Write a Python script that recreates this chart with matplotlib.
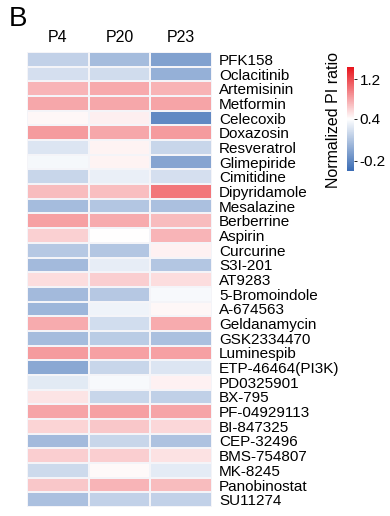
import numpy as np
import matplotlib
matplotlib.use("Agg")
import matplotlib.pyplot as plt
from matplotlib.colors import LinearSegmentedColormap, TwoSlopeNorm

plt.rcParams['font.family'] = ['Liberation Sans', 'DejaVu Sans']

# Data
columns = ['P4', 'P20', 'P23']
drugs = ['PFK158', 'Oclacitinib', 'Artemisinin', 'Metformin', 'Celecoxib',
         'Doxazosin', 'Resveratrol', 'Glimepiride', 'Cimitidine', 'Dipyridamole',
         'Mesalazine', 'Berberrine', 'Aspirin', 'Curcurine', 'S3I-201',
         'AT9283', '5-Bromoindole', 'A-674563', 'Geldanamycin', 'GSK2334470',
         'Luminespib', 'ETP-46464(PI3K)', 'PD0325901', 'BX-795', 'PF-04929113',
         'BI-847325', 'CEP-32496', 'BMS-754807', 'MK-8245', 'Panobinostat',
         'SU11274']
p4 = [0.17, 0.24, 0.73, 0.79, 0.44, 0.85, 0.27, 0.36, 0.19, 0.70,
      0.06, 0.82, 0.61, 0.12, 0.05, 0.55, 0.05, 0.03, 0.77, 0.06,
      0.85, -0.04, 0.29, 0.52, 0.81, 0.59, 0.05, 0.62, 0.21, 0.65, 0.08]
p20 = [0.06, 0.22, 0.78, 0.79, 0.47, 0.79, 0.45, 0.45, 0.32, 0.69,
       0.11, 0.77, 0.40, 0.11, 0.31, 0.62, 0.12, 0.34, 0.23, 0.14,
       0.82, 0.19, 0.37, 0.19, 0.82, 0.65, 0.19, 0.62, 0.43, 0.73, 0.17]
p23 = [-0.08, 0.00, 0.74, 0.81, -0.20, 0.85, 0.19, -0.06, 0.24, 1.01,
       0.08, 0.70, 0.73, 0.46, 0.11, 0.55, 0.37, 0.44, 0.77, 0.08,
       0.82, 0.27, 0.46, 0.16, 0.81, 0.58, 0.09, 0.53, 0.30, 0.70, 0.17]
cbar_ticks = [-0.2, 0.4, 1.2]

values = np.array([p4, p20, p23]).T

cmap = LinearSegmentedColormap.from_list('bwr_pi', ['#3a6cb4', '#ffffff', '#e8141c'])
norm = TwoSlopeNorm(vmin=-0.35, vcenter=0.4, vmax=1.45)

fig = plt.figure(figsize=(3.9, 5.16), dpi=100)
ax = fig.add_axes([0.0692, 0.0174, 0.4744, 0.8818])
ax.pcolormesh(values, cmap=cmap, norm=norm, edgecolors='#f4f4f8', linewidth=0.2)
ax.set_xlim(0, 3)
ax.set_ylim(len(drugs), 0)
for s in ax.spines.values():
    s.set_visible(False)

ax.xaxis.tick_top()
ax.set_xticks(np.arange(3) + 0.5)
ax.set_xticklabels(columns, fontsize=11.5)
ax.yaxis.tick_right()
ax.set_yticks(np.arange(len(drugs)) + 0.5)
ax.set_yticklabels(drugs, fontsize=11)
ax.tick_params(length=0, pad=5)
ax.tick_params(axis='x', pad=5)

cax = fig.add_axes([0.8897, 0.6686, 0.018, 0.2016])
sm = matplotlib.cm.ScalarMappable(norm=norm, cmap=cmap)
cb = fig.colorbar(sm, cax=cax, ticks=cbar_ticks)
cb.outline.set_visible(False)
cb.ax.tick_params(labelsize=11, length=2, width=0.6, pad=2)
cb.ax.set_yticklabels(['-0.2', '0.4', '1.2'])

fig.text(333 / 390, 1 - 120 / 516, 'Normalized PI ratio', rotation=90,
         ha='center', va='center', fontsize=11.5)
fig.text(9 / 390, 1 - 19 / 516, 'B', fontsize=20, ha='left', va='center')

fig.savefig('out.png', dpi=100)
